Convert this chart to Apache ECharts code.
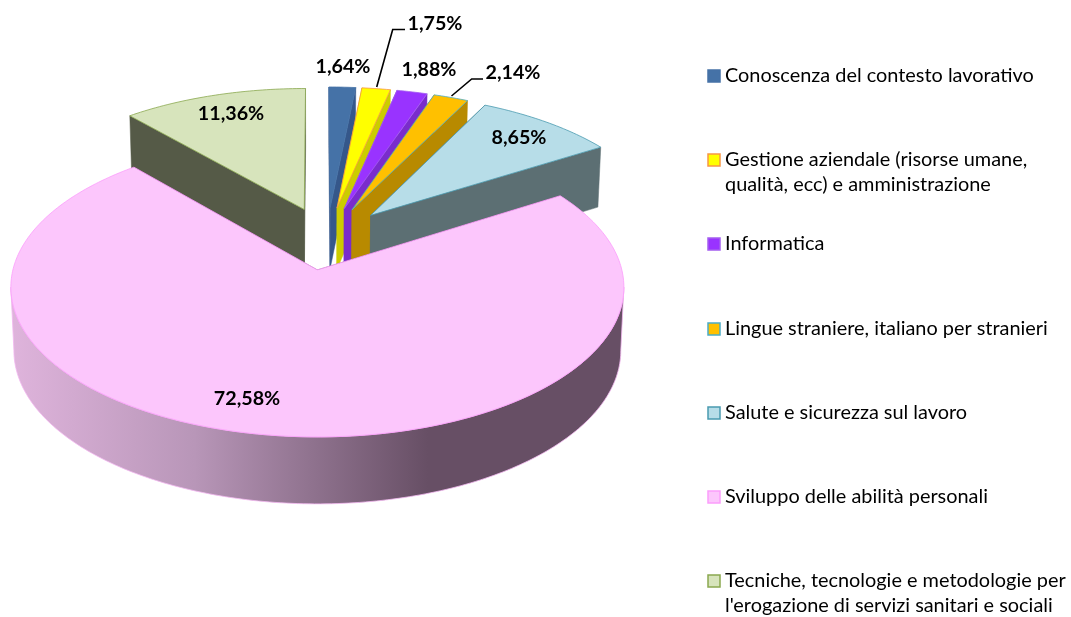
<!DOCTYPE html>
<html>
<head>
<meta charset="utf-8">
<style>
  html, body { margin: 0; padding: 0; background: #fff; }
  #chart { width: 1071px; height: 617px; }
</style>
<script src="https://cdn.jsdelivr.net/npm/echarts@6/dist/echarts.min.js"></script>
</head>
<body>
<div id="chart"></div>
<script>
const categories = [
  'Conoscenza del contesto lavorativo',
  'Gestione aziendale (risorse umane,\nqualità, ecc) e amministrazione',
  'Informatica',
  'Lingue straniere, italiano per stranieri',
  'Salute e sicurezza sul lavoro',
  'Sviluppo delle abilità personali',
  "Tecniche, tecnologie e metodologie per\nl'erogazione di servizi sanitari e sociali"
]
const values = [1.64, 1.75, 1.88, 2.14, 8.65, 72.58, 11.36]

const topColors = ['#4572a7', '#ffff00', '#9933ff', '#ffc000', '#b7dde8', '#fcc6fc', '#d7e4bc']
const edgeColors = ['#4572a7', '#f79646', '#a45ef0', '#4bacc6', '#4a9bb0', '#fb9dfb', '#8aa84f']
const sideColors = ['#35578a', '#cccc00', '#7a2ccc', '#b88a00', '#5c6f73', '#674f65', '#555a47']

// painting order, far slices first so the pink one covers their bases
const drawOrder = [6, 0, 1, 2, 3, 4, 5]
const legendY = [76, 160, 244, 329, 413, 497, 581]
const labelPos = [[343, 67], [435, 24], [429, 70], [513, 73], [519, 138], [247, 399], [231, 114]]
const leaders = {
  1: [[376.7, 87], [392.7, 29.5], [405, 29.5]],
  3: [[451.5, 96], [471.7, 79], [483, 79]]
}

// projection of the tilted pie plane, pink apex is the origin
const view = { cx: 317, cy: 270, a: 304.5, b: 147.8, k: 0.115, depth: 63, shrink: 0.99 }
const hub = [0.034, 0.221]
const explode = 0.223

const font = 'Lato, "Open Sans", sans-serif'

function project(u, v, low) {
  const w = 1 + view.k * v
  let x = view.a * u / w
  let y = -view.b * v / w
  if (low) {
    x *= view.shrink
    y += view.depth / Math.sqrt(w)
  }
  return [view.cx + x, view.cy + y]
}

function sliceGeometry(index) {
  let before = 0
  for (let i = 0; i < index; i++) before += values[i]
  const total = values.reduce((s, v) => s + v, 0)
  const t1 = before / total * Math.PI * 2
  const t2 = (before + values[index]) / total * Math.PI * 2
  const mid = (t1 + t2) / 2
  return {
    t1,
    t2,
    u: hub[0] + explode * Math.sin(mid),
    v: hub[1] + explode * Math.cos(mid)
  }
}

function arc(g, from, to, low) {
  const pts = []
  const n = Math.max(4, Math.ceil((to - from) * 60))
  for (let i = 0; i <= n; i++) {
    const t = from + (to - from) * i / n
    pts.push(project(g.u + Math.sin(t), g.v + Math.cos(t), low))
  }
  return pts
}

function cutFace(g, t, rank, fill) {
  const u = g.u + Math.sin(t)
  const v = g.v + Math.cos(t)
  return {
    type: 'polygon',
    z2: rank,
    shape: {
      points: [project(g.u, g.v), project(u, v), project(u, v, true), project(g.u, g.v, true)]
    },
    style: { fill, stroke: fill, lineWidth: 0.5 }
  }
}

function renderSlice(params) {
  const i = params.dataIndex
  const g = sliceGeometry(i)
  const rank = drawOrder.indexOf(i) * 10
  const children = [
    cutFace(g, g.t1, rank, sideColors[i]),
    cutFace(g, g.t2, rank, sideColors[i])
  ]

  // outer wall between the two points where the rim turns vertical
  const from = Math.max(g.t1, Math.PI * 96.6 / 180)
  const to = Math.min(g.t2, Math.PI * 263.4 / 180)
  if (to > from) {
    children.push({
      type: 'polygon',
      z2: rank + 1,
      shape: { points: arc(g, from, to).concat(arc(g, from, to, true).reverse()) },
      style: {
        fill: new echarts.graphic.LinearGradient(0, 0, 1, 0, [
          { offset: 0, color: '#dfb4dc' },
          { offset: 0.3, color: '#b896b8' },
          { offset: 0.68, color: sideColors[i] },
          { offset: 1, color: sideColors[i] }
        ]),
        stroke: '#f3b8f0',
        lineWidth: 0.8
      }
    })
  }

  children.push({
    type: 'polygon',
    z2: rank + 2,
    shape: { points: [project(g.u, g.v)].concat(arc(g, g.t1, g.t2)) },
    style: { fill: topColors[i], stroke: edgeColors[i], lineWidth: 0.8 }
  })

  children.push({
    type: 'text',
    z2: 200,
    x: labelPos[i][0],
    y: labelPos[i][1],
    style: {
      text: values[i].toFixed(2).replace('.', ',') + '%',
      font: 'bold 19.7px ' + font,
      fill: '#000',
      align: 'center',
      verticalAlign: 'middle'
    }
  })

  if (leaders[i]) {
    children.push({
      type: 'polyline',
      z2: 199,
      shape: { points: leaders[i] },
      style: { stroke: '#000', lineWidth: 1.6, fill: 'none' }
    })
  }
  return { type: 'group', children }
}

const legendGraphics = []
categories.forEach((name, i) => {
  legendGraphics.push({
    type: 'rect',
    shape: { x: 708, y: legendY[i] - 6, width: 12, height: 12 },
    style: { fill: topColors[i], stroke: edgeColors[i], lineWidth: 1.5 },
    silent: true
  })
  legendGraphics.push({
    type: 'text',
    x: 725,
    y: legendY[i] - 12.5,
    style: {
      text: name,
      font: '19.9px ' + font,
      lineHeight: 25,
      fill: '#000',
      align: 'left',
      verticalAlign: 'top'
    },
    silent: true
  })
})

const chart = echarts.init(document.getElementById('chart'))
chart.setOption({
  animation: false,
  graphic: legendGraphics,
  series: [
    {
      type: 'custom',
      coordinateSystem: 'none',
      silent: true,
      renderItem: renderSlice,
      data: values
    }
  ]
})
</script>
</body>
</html>
